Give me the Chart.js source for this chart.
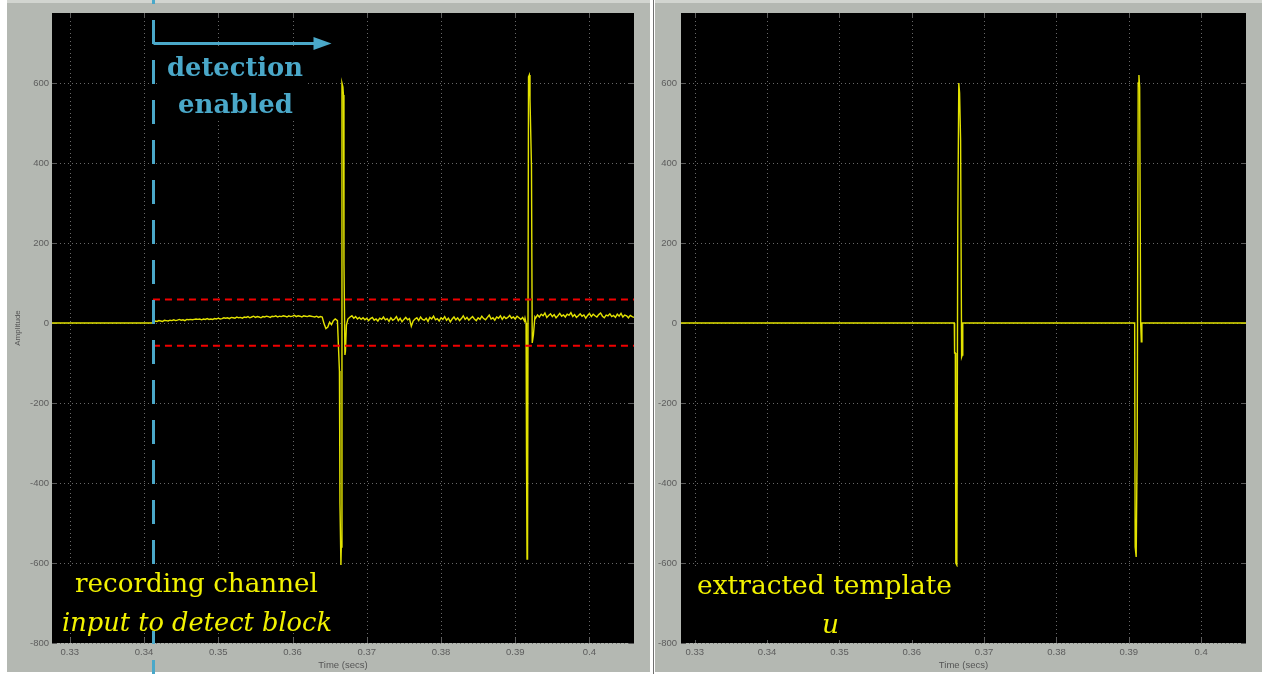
<!DOCTYPE html>
<html><head><meta charset="utf-8">
<script src="https://cdn.jsdelivr.net/npm/chart.js@4.4.0/dist/chart.umd.min.js"></script>
<style>
html,body{margin:0;padding:0;background:#ffffff;width:1264px;height:674px;overflow:hidden;position:relative}
.panel{position:absolute;background:rgb(180,184,178)}
#p1{left:7px;top:0;width:643px;height:672px}
#p2{left:655px;top:0;width:607px;height:672px}
.strip{position:absolute;left:0;top:0;width:100%;height:3px;background:#d2d5d0}
#sep{position:absolute;left:653px;top:0;width:1px;height:674px;background:#707070}
#w1{position:absolute;left:0;top:0;width:650px;height:674px}
#w2{position:absolute;left:655px;top:0;width:609px;height:674px}
</style></head>
<body>
<div class="panel" id="p1"><div class="strip"></div></div>
<div class="panel" id="p2"><div class="strip"></div></div>
<div id="sep"></div>
<div id="w1"><canvas id="c1" width="650" height="674"></canvas></div>
<div id="w2"><canvas id="c2" width="609" height="674"></canvas></div>
<script>
// ---------------- data ----------------
const timeRangeLeft = [0.3276, 0.4060];
const timeRangeRight = [0.3281, 0.4062];
const ampRange = [-800, 775];
const xTickValues = [0.33, 0.34, 0.35, 0.36, 0.37, 0.38, 0.39, 0.40];
const xTickLabels = ['0.33', '0.34', '0.35', '0.36', '0.37', '0.38', '0.39', '0.4'];
const yTickValues = [-800, -600, -400, -200, 0, 200, 400, 600];
const yTickLabels = ['-800', '-600', '-400', '-200', '0', '200', '400', '600'];
const detectionTime = 0.3412;
const thresholdUpper = 59;
const thresholdLower = -57;
const sampleStep = 0.00025;

// recording channel: before detection (flat)
const preTime = [0.3276, 0.3412];
const preAmp = [0, 0];

// recording channel noise segment A
const noiseAStart = 0.34125;
const noiseA = [3,5,4,6,5,4,7,6,5,7,6,8,6,7,9,7,8,6,9,8,9,8,9,10,9,10,8,10,9,11,
  9,10,9,11,10,12,10,11,13,12,13,11,14,13,12,15,13,14,12,15,
  14,16,13,15,17,14,16,15,13,16,15,17,16,14,17,16,18,15,17,16,
  18,17,15,18,16,17,19,16,18,17,15,18,17,16,18,17,16,15,17,14,
  16,15,-2,-14,-10,2,-4,6,10];

// recording channel spike 1
const spike1RecTime = [0.36605, 0.36632, 0.36639, 0.36652, 0.36657, 0.36666, 0.36679, 0.36686, 0.36693, 0.36706, 0.36713, 0.36726, 0.36746];
const spike1RecAmp  = [6, -120, -450, -605, -560, 600, 590, 570, 150, -80, -70, -5, 10];

// recording channel noise segment B
const noiseBStart = 0.36775;
const noiseB = [15,18,12,16,10,14,9,13,8,12,6,11,14,7,10,5,12,9,15,8,
  11,4,13,7,10,16,6,12,3,9,14,8,11,-8,5,10,13,6,15,9,
  7,12,4,14,10,17,8,11,5,13,9,16,7,12,3,10,15,8,13,6,
  11,18,9,14,7,12,16,10,6,13,9,17,11,8,14,20,10,13,7,15,
  12,18,9,16,11,14,19,12,15,10,17,13,9,14,5];

// recording channel spike 2
const spike2RecTime = [0.39132, 0.39146, 0.39152, 0.39159, 0.39166, 0.39179, 0.39190, 0.39199, 0.39219, 0.39229, 0.39245, 0.39265];
const spike2RecAmp  = [12, 0, -330, -590, -575, 615, 620, 560, 390, -50, -30, 15];

// recording channel noise segment C
const noiseCStart = 0.39275;
const noiseC = [12,20,15,22,18,25,14,19,23,16,21,13,18,24,17,20,15,22,19,26,
  16,21,14,18,23,17,20,12,19,24,16,22,18,15,21,25,17,13,20,18,
  23,16,19,14,22,17,24,15,20,18,13,19,16,14];

// extracted template u
const tplEdgeTime = [0.3281, 0.4062];
const spike1TplTime = [0.36588, 0.36592, 0.36602, 0.36609, 0.36623, 0.36636, 0.36650, 0.36661, 0.36675, 0.36689, 0.36698, 0.36705];
const spike1TplAmp  = [0, -75, -75, -600, -605, 255, 600, 575, 455, -85, -80, 0];
const spike2TplTime = [0.39081, 0.39088, 0.39102, 0.39116, 0.39130, 0.39140, 0.39150, 0.39164, 0.39173, 0.39181];
const spike2TplAmp  = [0, -560, -585, -300, 600, 620, 590, 0, -47, 0];

// ---------------- build series ----------------
function pairs(ts, vs) { return ts.map((t, i) => ({x: t, y: vs[i]})); }
function sampled(start, vs) { return vs.map((v, i) => ({x: start + i * sampleStep, y: v})); }

const recording = [].concat(
  pairs(preTime, preAmp),
  sampled(noiseAStart, noiseA),
  pairs(spike1RecTime, spike1RecAmp),
  sampled(noiseBStart, noiseB),
  pairs(spike2RecTime, spike2RecAmp),
  sampled(noiseCStart, noiseC)
);
const template = [].concat(
  [{x: tplEdgeTime[0], y: 0}],
  pairs(spike1TplTime, spike1TplAmp),
  pairs(spike2TplTime, spike2TplAmp),
  [{x: tplEdgeTime[1], y: 0}]
);

// ---------------- helpers ----------------
const TRACE = '#e2e200';
const BLUE = '#4aa8c9';
const RED = '#f00000';
const SERIF = '"DejaVu Serif"';

function fitFont(ctx, text, style, targetW) {
  ctx.font = style + ' 100px ' + SERIF;
  const w = ctx.measureText(text).width;
  return style + ' ' + (100 * targetW / w).toFixed(2) + 'px ' + SERIF;
}

function framePlugin(extra) {
  return {
    id: 'frame' + Math.random().toString(36).slice(2),
    beforeDraw(chart) {
      const {ctx, chartArea: a} = chart;
      ctx.save();
      ctx.fillStyle = '#000';
      ctx.fillRect(a.left, a.top, a.right - a.left, a.bottom - a.top);
      ctx.restore();
    },
    beforeDatasetsDraw(chart) {
      const {ctx, chartArea: a} = chart;
      const xs = chart.scales.x, ys = chart.scales.y;
      ctx.save();
      ctx.lineWidth = 1;
      ctx.strokeStyle = 'rgba(110,110,110,0.95)';
      ctx.setLineDash([1, 3]);
      ctx.beginPath();
      xs.ticks.forEach(t => {
        const px = Math.round(xs.getPixelForValue(t.value)) + 0.5;
        ctx.moveTo(px, a.top); ctx.lineTo(px, a.bottom);
      });
      ys.ticks.forEach(t => {
        const py = Math.round(ys.getPixelForValue(t.value)) + 0.5;
        ctx.moveTo(a.left, py); ctx.lineTo(a.right, py);
      });
      ctx.stroke();
      ctx.setLineDash([]);
      ctx.strokeStyle = '#5a5a5a';
      ctx.beginPath();
      xs.ticks.forEach(t => {
        const px = Math.round(xs.getPixelForValue(t.value)) + 0.5;
        ctx.moveTo(px, a.top); ctx.lineTo(px, a.top + 5);
        ctx.moveTo(px, a.bottom); ctx.lineTo(px, a.bottom - 5);
      });
      ys.ticks.forEach(t => {
        const py = Math.round(ys.getPixelForValue(t.value)) + 0.5;
        ctx.moveTo(a.left, py); ctx.lineTo(a.left + 5, py);
        ctx.moveTo(a.right, py); ctx.lineTo(a.right - 5, py);
      });
      ctx.stroke();
      ctx.restore();
    },
    afterDraw(chart) { extra(chart); }
  };
}

function axisTitles(chart, showY) {
  const {ctx, chartArea: a} = chart;
  ctx.save();
  ctx.fillStyle = '#555';
  ctx.textAlign = 'center';
  ctx.textBaseline = 'middle';
  ctx.font = '9.5px "Liberation Sans"';
  ctx.fillText('Time (secs)', (a.left + a.right) / 2, 665);
  if (showY) {
    ctx.translate(18, (a.top + a.bottom) / 2);
    ctx.rotate(-Math.PI / 2);
    ctx.font = '8px "Liberation Sans"';
    ctx.fillText('Amplitude', 0, 0);
  }
  ctx.restore();
}

function makeOptions(range, yWidth, padRight, yPad) {
  return {
    responsive: false,
    animation: false,
    events: [],
    layout: {padding: {top: 13, right: padRight, left: 0, bottom: 0}},
    plugins: {legend: {display: false}, tooltip: {enabled: false}},
    elements: {point: {radius: 0}, line: {tension: 0}},
    scales: {
      x: {
        type: 'linear', min: range[0], max: range[1],
        grid: {display: false, drawTicks: false}, border: {display: false},
        afterBuildTicks: s => { s.ticks = xTickValues.map(v => ({value: v})); },
        afterFit: s => { s.height = 31; },
        ticks: {
          autoSkip: false, maxRotation: 0, padding: 4, color: '#5c5c5c',
          font: {family: '"Liberation Sans"', size: 9.5},
          callback: (v, i) => xTickLabels[i]
        }
      },
      y: {
        type: 'linear', min: ampRange[0], max: ampRange[1],
        grid: {display: false, drawTicks: false}, border: {display: false},
        afterBuildTicks: s => { s.ticks = yTickValues.map(v => ({value: v})); },
        afterFit: s => { s.width = yWidth; },
        ticks: {
          padding: yPad, color: '#5c5c5c',
          font: {family: '"Liberation Sans"', size: 9.5},
          callback: (v, i) => yTickLabels[i]
        }
      }
    }
  };
}

// ---------------- left chart: recording channel ----------------
function annotateLeft(chart) {
  const {ctx} = chart;
  const xs = chart.scales.x;
  const bx = Math.round(xs.getPixelForValue(detectionTime)) + 0.5;
  ctx.save();
  // detection line
  ctx.strokeStyle = BLUE; ctx.lineWidth = 3; ctx.setLineDash([24, 16]);
  ctx.beginPath(); ctx.moveTo(bx, -20); ctx.lineTo(bx, 674); ctx.stroke();
  ctx.setLineDash([]);
  // arrow
  ctx.beginPath(); ctx.moveTo(bx, 43.5); ctx.lineTo(bx + 164, 43.5); ctx.stroke();
  ctx.fillStyle = BLUE;
  ctx.beginPath(); ctx.moveTo(bx + 178, 43.5); ctx.lineTo(bx + 160, 37); ctx.lineTo(bx + 160, 50); ctx.closePath(); ctx.fill();
  // label box + text
  ctx.fillStyle = '#000';
  ctx.fillRect(160, 47, 146, 74);
  ctx.fillStyle = BLUE;
  ctx.textAlign = 'left'; ctx.textBaseline = 'alphabetic';
  ctx.font = fitFont(ctx, 'detection', 'bold', 136);
  ctx.fillText('detection', 167, 76);
  ctx.font = fitFont(ctx, 'enabled', 'bold', 115);
  ctx.fillText('enabled', 178, 113);
  // bottom texts
  ctx.fillStyle = '#000';
  ctx.fillRect(58, 566, 280, 65);
  ctx.fillStyle = '#f2f200';
  ctx.font = fitFont(ctx, 'recording channel', 'normal', 243);
  ctx.fillText('recording channel', 75, 592);
  ctx.font = fitFont(ctx, 'input to detect block', 'italic', 270);
  ctx.fillText('input to detect block', 62, 631);
  ctx.restore();
  axisTitles(chart, true);
}

new Chart(document.getElementById('c1'), {
  type: 'line',
  data: {datasets: [
    {data: [{x: detectionTime, y: thresholdUpper}, {x: timeRangeLeft[1], y: thresholdUpper}], borderColor: RED, borderWidth: 2, borderDash: [7, 5]},
    {data: [{x: detectionTime, y: thresholdLower}, {x: timeRangeLeft[1], y: thresholdLower}], borderColor: RED, borderWidth: 2, borderDash: [7, 5]},
    {data: recording, borderColor: TRACE, borderWidth: 1.4}
  ]},
  options: makeOptions(timeRangeLeft, 52, 16, 3),
  plugins: [framePlugin(annotateLeft)]
});

// ---------------- right chart: extracted template ----------------
function annotateRight(chart) {
  const {ctx} = chart;
  ctx.save();
  ctx.fillStyle = '#000';
  ctx.fillRect(37, 567, 266, 73);
  ctx.fillStyle = '#f2f200';
  ctx.textAlign = 'left'; ctx.textBaseline = 'alphabetic';
  const f = fitFont(ctx, 'extracted template', 'normal', 255);
  ctx.font = f;
  ctx.fillText('extracted template', 42, 594);
  ctx.font = f.replace('normal', 'italic');
  ctx.fillText('u', 167, 633);
  ctx.restore();
  axisTitles(chart, false);
}

new Chart(document.getElementById('c2'), {
  type: 'line',
  data: {datasets: [
    {data: template, borderColor: TRACE, borderWidth: 1.4}
  ]},
  options: makeOptions(timeRangeRight, 26, 18, 4),
  plugins: [framePlugin(annotateRight)]
});
</script>
</body></html>
